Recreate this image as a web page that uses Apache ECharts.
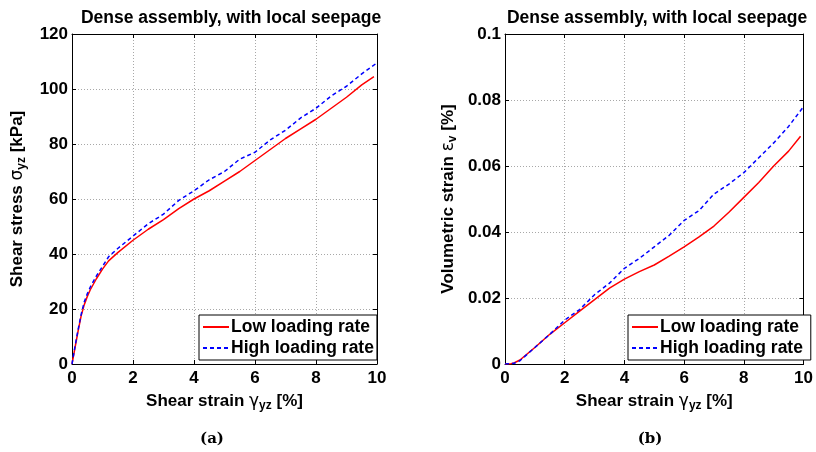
<!DOCTYPE html>
<html>
<head>
<meta charset="utf-8">
<script src="https://cdn.jsdelivr.net/npm/echarts@6/dist/echarts.min.js"></script>
<style>
  html, body { margin: 0; padding: 0; background: #fff; }
  #chart { width: 816px; height: 452px; }
</style>
</head>
<body>
<div id="chart"></div>
<script>
// (a) 剪应力 - 剪应变
const stressStrainLow = [0, 0.1, 0.2, 0.3, 0.4, 0.5, 0.6, 0.8, 1, 1.2, 1.5, 2, 2.5, 3, 3.5, 4, 4.5, 5, 5.5, 6, 6.5, 7, 7.5, 8, 8.5, 9, 9.5, 9.9];
const stressLow = [0, 6, 12, 17.5, 21.5, 24.5, 27, 31, 34.5, 37.5, 40.5, 45, 49, 52.5, 56.5, 60, 63, 66.5, 70, 74, 78, 82, 85.5, 89, 93, 97, 101.5, 104.5];
const stressStrainHigh = [0, 0.1, 0.2, 0.3, 0.4, 0.5, 0.6, 0.8, 1, 1.2, 1.5, 2, 2.5, 3, 3.5, 4, 4.5, 5, 5.5, 6, 6.5, 7, 7.5, 8, 8.5, 9, 9.5, 10];
const stressHigh = [0, 6.5, 12.5, 18, 22.5, 25.5, 28, 32, 35.5, 39, 42, 46.5, 51, 54.5, 59.5, 63, 67, 70, 74.5, 77, 81.5, 85, 89.5, 93, 97.5, 101, 105.5, 109.5];

// (b) 体应变 - 剪应变
const volStrainLow = [0, 0.2, 0.3, 0.5, 1, 1.5, 2, 2.5, 3, 3.5, 4, 4.5, 5, 5.5, 6, 6.5, 7, 7.5, 8, 8.5, 9, 9.5, 9.9];
const volLow = [0, 0.0001, 0.0003, 0.0012, 0.005, 0.009, 0.0125, 0.016, 0.0195, 0.023, 0.0257, 0.028, 0.030, 0.0327, 0.0355, 0.0385, 0.0418, 0.046, 0.0505, 0.055, 0.060, 0.0645, 0.069];
const volStrainHigh = [0, 0.2, 0.3, 0.5, 1, 1.5, 2, 2.5, 3, 3.5, 4, 4.5, 5, 5.5, 6, 6.5, 7, 7.5, 8, 8.5, 9, 9.5, 10];
const volHigh = [0, 0.0001, 0.0002, 0.001, 0.005, 0.009, 0.0133, 0.0165, 0.021, 0.0245, 0.029, 0.032, 0.0355, 0.039, 0.0435, 0.0465, 0.0515, 0.0545, 0.058, 0.0625, 0.067, 0.072, 0.078];

const panelTitle = "Dense assembly, with local seepage";
const seriesNames = ["Low loading rate", "High loading rate"];

const RED = "#ff0000";
const BLUE = "#0000ff";
const FONT = "Liberation Sans, Arial, sans-serif";

const pairs = (xs, ys) => xs.map((x, i) => [x, ys[i]]);

const subRich = {
  a: { fontFamily: FONT, fontWeight: "bold", fontSize: 17, color: "#000" },
  g: { fontFamily: "DejaVu Sans, sans-serif", fontSize: 17, color: "#000" },
  s: { fontFamily: FONT, fontWeight: "bold", fontSize: 12, color: "#000", padding: [9, 0, 0, 0] },
};

const baseAxis = {
  type: "value",
  axisLine: { show: true, onZero: false, lineStyle: { color: "#000", width: 1 } },
  axisTick: { show: true, inside: true, length: 4, lineStyle: { color: "#000" } },
  axisLabel: { color: "#000", fontFamily: FONT, fontWeight: "bold", fontSize: 17 },
  splitLine: { show: true, lineStyle: { color: "#a8a8a8", type: [1, 2], width: 1 } },
};

const makeX = (gridIndex) => [
  {
    ...baseAxis,
    gridIndex,
    min: 0,
    max: 10,
    interval: 2,
    axisLabel: { ...baseAxis.axisLabel, margin: 6 },
    name: "{a|Shear strain }{g|γ}{s|yz}{a| [%]}",
    nameLocation: "middle",
    nameGap: 27,
    nameTextStyle: { rich: subRich },
  },
  {
    ...baseAxis,
    gridIndex,
    position: "top",
    min: 0,
    max: 10,
    interval: 2,
    axisLabel: { show: false },
    splitLine: { show: false },
  },
];

const makeY = (gridIndex, max, interval, name, nameGap, fmt) => [
  {
    ...baseAxis,
    gridIndex,
    min: 0,
    max,
    interval,
    axisLabel: { ...baseAxis.axisLabel, margin: 4, formatter: fmt },
    name,
    nameLocation: "middle",
    nameGap,
    nameTextStyle: { rich: subRich },
  },
  {
    ...baseAxis,
    gridIndex,
    position: "right",
    min: 0,
    max,
    interval,
    axisLabel: { show: false },
    splitLine: { show: false },
  },
];

const legendCommon = {
  orient: "vertical",
  backgroundColor: "#fff",
  borderColor: "#000",
  borderWidth: 1,
  padding: [3, 3, 3, 3],
  itemGap: 3,
  itemWidth: 26,
  itemHeight: 18,
  itemStyle: { opacity: 0 },
  textStyle: { fontFamily: FONT, fontWeight: "bold", fontSize: 17.5, color: "#000", padding: [0, 0, 0, -3] },
};

const lineSeries = (name, data, color, dashed, idx) => ({
  name,
  type: "line",
  xAxisIndex: idx,
  yAxisIndex: idx,
  data,
  showSymbol: false,
  symbol: "none",
  smooth: false,
  lineStyle: { color, width: 1.5, type: dashed ? [4, 3] : "solid" },
  itemStyle: { color },
  z: dashed ? 3 : 2,
});

const volFmt = (v) => (v === 0 ? "0" : String(+v.toFixed(2)));

const option = {
  animation: false,
  backgroundColor: "#fff",
  title: [
    { text: panelTitle, left: 226, top: 4, textAlign: "center", textStyle: { fontFamily: FONT, fontWeight: "bold", fontSize: 17.5, color: "#000" } },
    { text: panelTitle, left: 652, top: 4, textAlign: "center", textStyle: { fontFamily: FONT, fontWeight: "bold", fontSize: 17.5, color: "#000" } },
    { text: "(a)", left: 207, top: 427, textAlign: "center", textStyle: { fontFamily: "DejaVu Serif, serif", fontWeight: "bold", fontSize: 15, color: "#000" } },
    { text: "(b)", left: 645, top: 427, textAlign: "center", textStyle: { fontFamily: "DejaVu Serif, serif", fontWeight: "bold", fontSize: 15, color: "#000" } },
  ],
  grid: [
    { left: 72, top: 34, width: 305, height: 330 },
    { left: 505, top: 34, width: 301, height: 330 },
  ],
  xAxis: [...makeX(0), ...makeX(1)],
  yAxis: [
    ...makeY(0, 120, 20, "{a|Shear stress }{g|σ}{s|yz}{a| [kPa]}", 44),
    ...makeY(1, 0.1, 0.02, "{a|Volumetric strain }{g|ε}{s|v}{a| [%]}", 46, volFmt),
  ],
  legend: [
    { ...legendCommon, left: 199, top: 315, data: seriesNames.map((n) => n) },
    { ...legendCommon, left: 628, top: 315, data: seriesNames.map((n) => n + " ") },
  ],
  series: [
    lineSeries(seriesNames[0], pairs(stressStrainLow, stressLow), RED, false, 0),
    lineSeries(seriesNames[1], pairs(stressStrainHigh, stressHigh), BLUE, true, 0),
    lineSeries(seriesNames[0] + " ", pairs(volStrainLow, volLow), RED, false, 2),
    lineSeries(seriesNames[1] + " ", pairs(volStrainHigh, volHigh), BLUE, true, 2),
  ],
};

const chart = echarts.init(document.getElementById("chart"));
chart.setOption(option);
</script>
</body>
</html>
